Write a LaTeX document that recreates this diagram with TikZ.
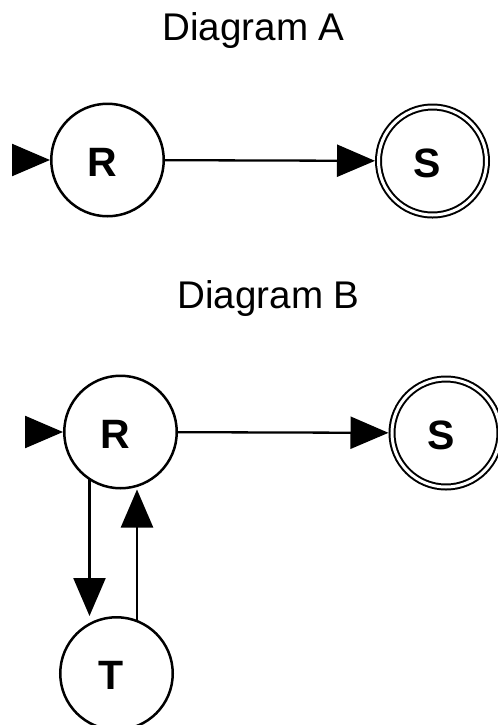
\documentclass[tikz,border=0pt]{standalone}
\usepackage{fontspec}
\setmainfont{Liberation Sans}
\usetikzlibrary{
  arrows.meta,
  backgrounds
}

\begin{document}
\begin{tikzpicture}[
  x=0.5pt, y=-0.5pt,
  state/.style = {shape=circle, draw, fill=white,
    line width=1.25pt, minimum size=56.25pt, inner sep=0pt,
    label={[font=\bfseries\fontsize{20.5}{20.5}\selectfont,
      xshift=-2.5pt, yshift=-1pt]center:#1}},
  accept/.style = {state=#1, line width=1pt,
    double, double distance=1.5pt, minimum size=54pt, outer sep=1.75pt},
  title/.style = {anchor=base, font=\fontsize{19.3}{19.3}\selectfont},
  edge/.style = {-{Triangle[length=19pt, width=16pt]}, line width=1.15pt}]
  \useasboundingbox (0,0) rectangle (498,725);

  % diagram A
  \node[title] (titleA) at (253.5,40) {Diagram A};
  \node[state=R] (rA) at (107.5,160) {};
  \node[accept=S] (sA) at (432.5,161) {};
  \coordinate (initA) at ([xshift=-19pt]rA.west);
  \draw[edge] (initA) -- (rA);
  \draw[edge] (rA) -- (sA);

  % diagram B
  \node[title] (titleB) at (268.5,308) {Diagram B};
  \node[state=R] (rB) at (120.5,432) {};
  \node[accept=S] (sB) at (446,433) {};
  \node[state=T] (tB) at (116.5,673.5) {};
  \coordinate (initB) at ([xshift=-19pt]rB.west);
  \draw[edge] (initB) -- (rB);
  \draw[edge] (rB) -- (sB);
  \begin{pgfonlayer}{background}
    \draw[edge] ([xshift=-15.5pt]rB.center) -- ([xshift=-15.5pt]rB.center |- tB.north);
    \draw[edge] ([xshift=8.25pt]rB.center |- tB.center) -- ([xshift=8.25pt]rB.center |- rB.south);
  \end{pgfonlayer}
\end{tikzpicture}
\end{document}
